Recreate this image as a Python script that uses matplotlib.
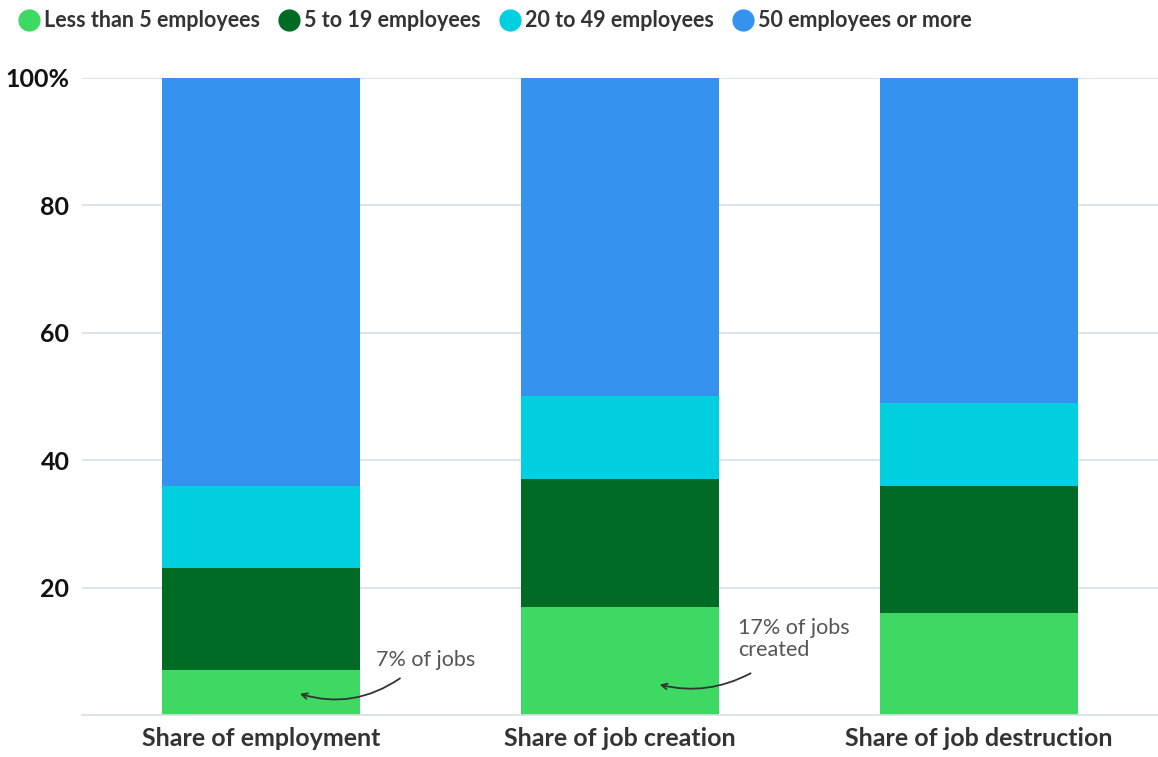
import matplotlib.pyplot as plt
from matplotlib.lines import Line2D
import numpy as np

plt.rcParams['font.family'] = ['Lato', 'DejaVu Sans']

categories = ['Share of employment', 'Share of job creation', 'Share of job destruction']
series_names = ['Less than 5 employees', '5 to 19 employees', '20 to 49 employees', '50 employees or more']
less_than_5 = [7, 17, 16]
from_5_to_19 = [16, 20, 20]
from_20_to_49 = [13, 13, 13]
over_50 = [64, 50, 51]
colors = ['#3dd962', '#006b24', '#00cfe0', '#3592ee']

fig = plt.figure(figsize=(11.58, 7.57), dpi=100)
ax = fig.add_axes([0.0708, 0.0555, 0.9292, 0.8415])

x = np.arange(len(categories))
bottom = np.zeros(len(categories))
for values, color in zip([less_than_5, from_5_to_19, from_20_to_49, over_50], colors):
    ax.bar(x, values, width=0.552, bottom=bottom, color=color, zorder=2)
    bottom += np.array(values)

ax.set_xlim(-0.5, 2.5)
ax.set_ylim(0, 100)
ax.set_yticks([20, 40, 60, 80, 100])
ax.set_yticklabels(['20', '40', '60', '80', '100%'], fontsize=18, fontweight='bold', color='#111111')
ax.set_xticks(x)
ax.set_xticklabels(categories, fontsize=18, fontweight='bold', color='#333333')
ax.tick_params(axis='both', length=0)
ax.tick_params(axis='y', pad=9)
ax.tick_params(axis='x', pad=9)
ax.grid(axis='y', color='#d6e0e6', linewidth=1.2, zorder=0)
for side in ['top', 'right', 'left']:
    ax.spines[side].set_visible(False)
ax.spines['bottom'].set_color('#d6e0e6')
ax.spines['bottom'].set_linewidth(1.2)

# callouts for the smallest firms
ax.text(0.321, 8.6, '7% of jobs', fontsize=15.5, color='#555555',
        va='center', ha='left')
ax.annotate('', xy=(0.1, 3.45), xytext=(0.393, 6.0),
            arrowprops=dict(arrowstyle='->', color='#333333', lw=1.3,
                            connectionstyle='arc3,rad=-0.25'), zorder=3)
ax.text(1.329, 11.9, '17% of jobs\ncreated', fontsize=15.5, color='#555555',
        va='center', ha='left', linespacing=1.1)
ax.annotate('', xy=(1.103, 4.87), xytext=(1.371, 6.75),
            arrowprops=dict(arrowstyle='->', color='#333333', lw=1.3,
                            connectionstyle='arc3,rad=-0.2'), zorder=3)

handles = [Line2D([], [], marker='o', linestyle='', markersize=15, markerfacecolor=c,
                  markeredgecolor=c) for c in colors]
fig.legend(handles, series_names, loc='upper left', bbox_to_anchor=(-0.002, 1.012), ncol=4,
           frameon=False, handletextpad=0.15, columnspacing=0.8, handlelength=1.1,
           prop={'size': 15.5, 'weight': 'bold'}, labelcolor='#333333')

fig.savefig('out.png', dpi=100)
